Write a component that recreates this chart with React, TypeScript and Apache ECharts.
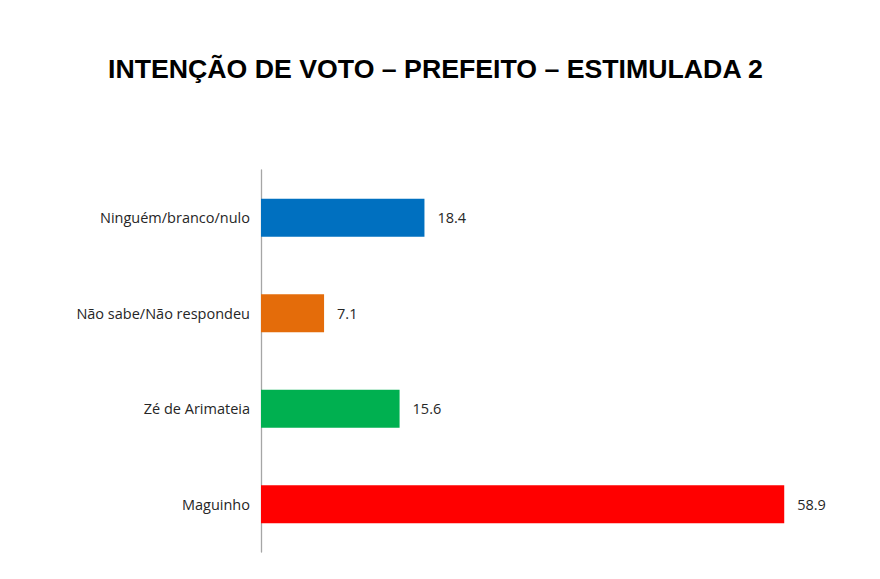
import { useEffect, useRef } from 'react'
import * as echarts from 'echarts'

const categories = ['Ninguém/branco/nulo', 'Não sabe/Não respondeu', 'Zé de Arimateia', 'Maguinho']
const values = [18.4, 7.1, 15.6, 58.9]
const colors = ['#0070C0', '#E46C0A', '#00B050', '#FF0000']

export default function App() {
  const chartRef = useRef<HTMLDivElement>(null)

  useEffect(() => {
    if (!chartRef.current) return
    const chart = echarts.init(chartRef.current, null, { renderer: 'svg' })

    chart.setOption({
      animation: false,
      backgroundColor: '#ffffff',
      title: {
        text: 'INTENÇÃO DE VOTO – PREFEITO – ESTIMULADA 2',
        left: 103,
        top: 50,
        textStyle: {
          fontFamily: 'Liberation Sans, Arial, sans-serif',
          fontWeight: 'bold',
          fontSize: 26.7,
          color: '#000000',
        },
      },
      grid: { left: 261, top: 170, width: 533, height: 382 },
      xAxis: {
        type: 'value',
        min: 0,
        max: 60,
        show: false,
      },
      yAxis: {
        type: 'category',
        inverse: true,
        data: categories,
        axisLine: { show: true, lineStyle: { color: '#A6A6A6', width: 1.3 } },
        axisTick: { show: false },
        axisLabel: {
          margin: 11,
          color: '#262626',
          fontSize: 14.5,
          fontFamily: 'Open Sans, sans-serif',
        },
      },
      series: [
        {
          type: 'bar',
          barWidth: '40%',
          data: values.map((v, i) => ({ value: v, itemStyle: { color: colors[i] } })),
          label: {
            show: true,
            position: 'right',
            distance: 13,
            color: '#262626',
            fontSize: 14.5,
            fontFamily: 'Open Sans, sans-serif',
            formatter: (p: { value: number }) => p.value.toFixed(1),
          },
        },
      ],
    })

    return () => chart.dispose()
  }, [])

  return (
    <div
      ref={chartRef}
      style={{ position: 'absolute', left: 0, top: 0, width: 880, height: 579 }}
    />
  )
}
